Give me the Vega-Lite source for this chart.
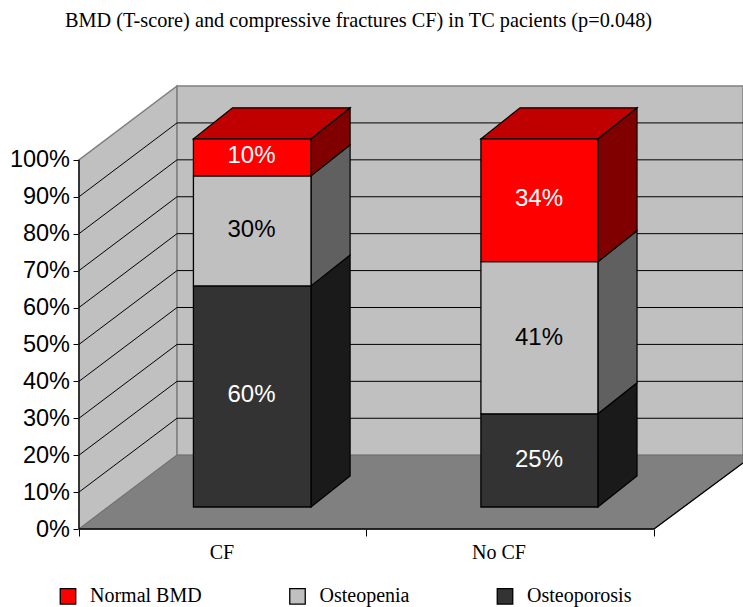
{
"$schema":"https://vega.github.io/schema/vega-lite/v6.json",
"width":664,"height":443,"autosize":"none",
"padding":{"left":79,"top":86,"right":0,"bottom":78},
"background":"white",
"title":{"text":"BMD (T-score) and compressive fractures CF) in TC pacients (p=0.048)","font":"Liberation Serif","fontSize":20.3,"fontWeight":"normal","color":"black","anchor":"start","dx":-14,"offset":52,"frame":"group"},
"config":{"view":{"stroke":null}},
"datasets":{
"wallSide":[{"x":0,"y":0,"y2":100},{"x":0.341,"y":20,"y2":120}],
"wallBack":[{"x":0.341,"y":20,"y2":120},{"x":2.3096,"y":20,"y2":120}],
"floor":[{"x":0,"y":0,"y2":0},{"x":0.341,"y":0,"y2":20},{"x":2,"y":0,"y2":20},{"x":2.3096,"y":17.9,"y2":20}],
"lines":[
{"id":"side10","x":0,"y":10},{"id":"side10","x":0.341,"y":30},
{"id":"side20","x":0,"y":20},{"id":"side20","x":0.341,"y":40},
{"id":"side30","x":0,"y":30},{"id":"side30","x":0.341,"y":50},
{"id":"side40","x":0,"y":40},{"id":"side40","x":0.341,"y":60},
{"id":"side50","x":0,"y":50},{"id":"side50","x":0.341,"y":70},
{"id":"side60","x":0,"y":60},{"id":"side60","x":0.341,"y":80},
{"id":"side70","x":0,"y":70},{"id":"side70","x":0.341,"y":90},
{"id":"side80","x":0,"y":80},{"id":"side80","x":0.341,"y":100},
{"id":"side90","x":0,"y":90},{"id":"side90","x":0.341,"y":110},
{"id":"back10","x":0.341,"y":30},{"id":"back10","x":2.3096,"y":30},
{"id":"back20","x":0.341,"y":40},{"id":"back20","x":2.3096,"y":40},
{"id":"back30","x":0.341,"y":50},{"id":"back30","x":2.3096,"y":50},
{"id":"back40","x":0.341,"y":60},{"id":"back40","x":2.3096,"y":60},
{"id":"back50","x":0.341,"y":70},{"id":"back50","x":2.3096,"y":70},
{"id":"back60","x":0.341,"y":80},{"id":"back60","x":2.3096,"y":80},
{"id":"back70","x":0.341,"y":90},{"id":"back70","x":2.3096,"y":90},
{"id":"back80","x":0.341,"y":100},{"id":"back80","x":2.3096,"y":100},
{"id":"back90","x":0.341,"y":110},{"id":"back90","x":2.3096,"y":110}
],
"edges":[
{"id":"yaxis","x":0,"y":0},{"id":"yaxis","x":0,"y":100},
{"id":"xaxis","x":0,"y":0},{"id":"xaxis","x":2,"y":0},
{"id":"floorEdge","x":2,"y":0},{"id":"floorEdge","x":2.3096,"y":17.9}
],
"faces":[
{"id":"a1","part":"Osteoporosis side","x":0.807,"y":5.96,"y2":65.85},{"id":"a1","part":"Osteoporosis side","x":0.943,"y":14.36,"y2":74.25},
{"id":"a2","part":"Osteopenia side","x":0.807,"y":65.85,"y2":95.66},{"id":"a2","part":"Osteopenia side","x":0.943,"y":74.25,"y2":104.06},
{"id":"a3","part":"Normal BMD side","x":0.807,"y":95.66,"y2":105.7},{"id":"a3","part":"Normal BMD side","x":0.943,"y":104.06,"y2":114.1},
{"id":"a4","part":"Normal BMD top","x":0.398,"y":105.7,"y2":105.7},{"id":"a4","part":"Normal BMD top","x":0.534,"y":105.7,"y2":114.1},{"id":"a4","part":"Normal BMD top","x":0.807,"y":105.7,"y2":114.1},{"id":"a4","part":"Normal BMD top","x":0.943,"y":114.1,"y2":114.1},
{"id":"b1","part":"Osteoporosis side","x":1.805,"y":5.96,"y2":31.2},{"id":"b1","part":"Osteoporosis side","x":1.941,"y":14.36,"y2":39.6},
{"id":"b2","part":"Osteopenia side","x":1.805,"y":31.2,"y2":72.4},{"id":"b2","part":"Osteopenia side","x":1.941,"y":39.6,"y2":80.8},
{"id":"b3","part":"Normal BMD side","x":1.805,"y":72.4,"y2":105.7},{"id":"b3","part":"Normal BMD side","x":1.941,"y":80.8,"y2":114.1},
{"id":"b4","part":"Normal BMD top","x":1.398,"y":105.7,"y2":105.7},{"id":"b4","part":"Normal BMD top","x":1.534,"y":105.7,"y2":114.1},{"id":"b4","part":"Normal BMD top","x":1.805,"y":105.7,"y2":114.1},{"id":"b4","part":"Normal BMD top","x":1.941,"y":114.1,"y2":114.1}
],
"bars":[
{"group":"CF","part":"Osteoporosis","x":0.398,"x2":0.807,"y":5.96,"y2":65.85},
{"group":"CF","part":"Osteopenia","x":0.398,"x2":0.807,"y":65.85,"y2":95.66},
{"group":"CF","part":"Normal BMD","x":0.398,"x2":0.807,"y":95.66,"y2":105.7},
{"group":"No CF","part":"Osteoporosis","x":1.398,"x2":1.805,"y":5.96,"y2":31.2},
{"group":"No CF","part":"Osteopenia","x":1.398,"x2":1.805,"y":31.2,"y2":72.4},
{"group":"No CF","part":"Normal BMD","x":1.398,"x2":1.805,"y":72.4,"y2":105.7}
],
"barLabels":[
{"part":"Osteoporosis","label":"60%","x":0.6,"y":36.3},
{"part":"Osteopenia","label":"30%","x":0.6,"y":81},
{"part":"Normal BMD","label":"10%","x":0.6,"y":101},
{"part":"Osteoporosis","label":"25%","x":1.6,"y":18.6},
{"part":"Osteopenia","label":"41%","x":1.6,"y":51.8},
{"part":"Normal BMD","label":"34%","x":1.6,"y":89.3}
],
"cats":[{"label":"CF","x":0.497,"y":0},{"label":"No CF","x":1.461,"y":0}]
},
"encoding":{
"x":{"field":"x","type":"quantitative","title":null,"scale":{"domain":[0,2.3096],"nice":false,"zero":false},"axis":{"values":[0,1,2],"labels":false,"domain":false,"grid":false,"ticks":true,"tickSize":7,"tickColor":"black","title":null}},
"y":{"field":"y","type":"quantitative","title":null,"stack":null,"scale":{"domain":[0,120],"nice":false,"zero":false},"axis":{"values":[0,10,20,30,40,50,60,70,80,90,100],"labelExpr":"datum.value+'%'","domain":false,"grid":false,"tickSize":6,"tickColor":"black","labelFont":"Liberation Sans","labelFontSize":23.5,"labelColor":"black","labelPadding":3.5,"title":null}}
},
"layer":[
{"data":{"name":"wallSide"},"mark":{"type":"area","orient":"vertical","fill":"#c0c0c0","stroke":"#808080","strokeWidth":1.5},"encoding":{"y2":{"field":"y2"}}},
{"data":{"name":"wallBack"},"mark":{"type":"area","orient":"vertical","fill":"#c0c0c0","stroke":"#808080","strokeWidth":1.5},"encoding":{"y2":{"field":"y2"}}},
{"data":{"name":"floor"},"mark":{"type":"area","orient":"vertical","fill":"#808080","stroke":"#707070","strokeWidth":1},"encoding":{"y2":{"field":"y2"}}},
{"data":{"name":"lines"},"mark":{"type":"line","color":"black","strokeWidth":1},"encoding":{"detail":{"field":"id"}}},
{"data":{"name":"edges"},"mark":{"type":"line","color":"black","strokeWidth":1.3},"encoding":{"detail":{"field":"id"}}},
{"data":{"name":"faces"},"mark":{"type":"area","orient":"vertical","stroke":"black","strokeWidth":1.2},"encoding":{"y2":{"field":"y2"},"detail":{"field":"id"},
 "color":{"field":"part","type":"nominal","title":null,"scale":{"domain":["Normal BMD","Osteopenia","Osteoporosis","Normal BMD side","Osteopenia side","Osteoporosis side","Normal BMD top"],"range":["#ff0000","#c0c0c0","#333333","#800000","#606060","#1a1a1a","#c00000"]},
 "legend":{"values":["Normal BMD","Osteopenia","Osteoporosis"],"orient":"none","legendX":-21,"legendY":500,"direction":"horizontal","columns":3,"columnPadding":84.5,"padding":0,"symbolType":"square","symbolSize":240,"symbolStrokeColor":"black","symbolStrokeWidth":1.3,"symbolOpacity":1,"labelOffset":12,"labelFont":"Liberation Serif","labelFontSize":20,"labelColor":"black","labelLimit":300,"title":null}}}},
{"data":{"name":"bars"},"mark":{"type":"rect","stroke":"black","strokeWidth":1.3},"encoding":{"x2":{"field":"x2"},"y2":{"field":"y2"},"color":{"field":"part","type":"nominal"}}},
{"data":{"name":"barLabels"},"mark":{"type":"text","font":"Liberation Sans","fontSize":24,"baseline":"middle","align":"center"},"encoding":{
 "text":{"field":"label"},
 "fill":{"condition":{"test":"datum.part=='Osteopenia'","value":"black"},"value":"white"}}},
{"data":{"name":"cats"},"mark":{"type":"text","font":"Liberation Serif","fontSize":20,"baseline":"middle","align":"center","dy":24,"color":"black"},"encoding":{"text":{"field":"label"}}}
]
}
